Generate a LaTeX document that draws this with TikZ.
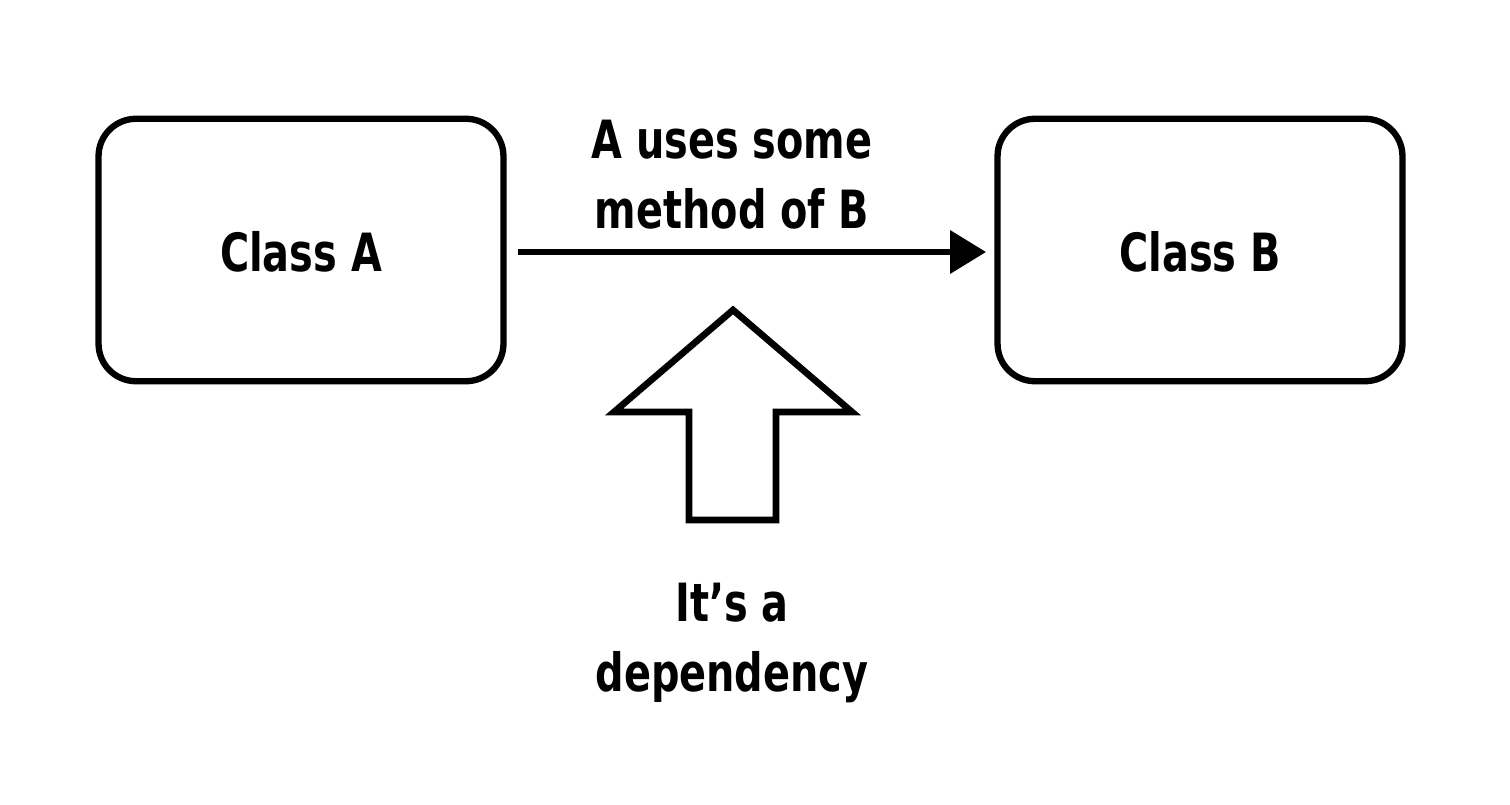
\documentclass[tikz,border=0pt]{standalone}
\usepackage{fontspec}
\setmainfont{DejaVu Sans Condensed}[BoldFont={DejaVu Sans Condensed Bold},BoldFeatures={FakeStretch=0.84}]
\usetikzlibrary{arrows.meta}
\begin{document}
\begin{tikzpicture}[x=0.02cm,y=-0.02cm,
  lbl/.style={font=\bfseries\fontsize{30}{40}\selectfont, align=center, inner sep=0pt},
  classbox/.style={draw=black, line width=3.6pt, rounded corners=0.75cm, minimum width=8.1cm, minimum height=5.25cm, inner sep=0pt},
  conn/.style={draw=black, line width=3.2pt, -{Triangle[length=0.72cm,width=0.85cm]}},
  bigarrow/.style={draw=black, line width=3.8pt, line join=miter, fill=white}]
\useasboundingbox (0,0) rectangle (1510,804);
\node[classbox] (A) at (301,250) {};
\node[classbox] (B) at (1200,250) {};
\node[lbl] (ta) at (301,252) {Class A};
\node[lbl] (tb) at (1200,252) {Class B};
\coordinate (s) at (518,252);
\coordinate (e) at (986,252);
\draw[conn] (s) -- (e);
\node[lbl] (uses) at (732,175) {A uses some\\method of B};
\draw[bigarrow] (733,310) -- (852,412) -- (776,412) -- (776,520) -- (689,520) -- (689,412) -- (614,412) -- cycle;
\node[lbl] (dep) at (732,643) {It’s a\\dependency};
\end{tikzpicture}
\end{document}
